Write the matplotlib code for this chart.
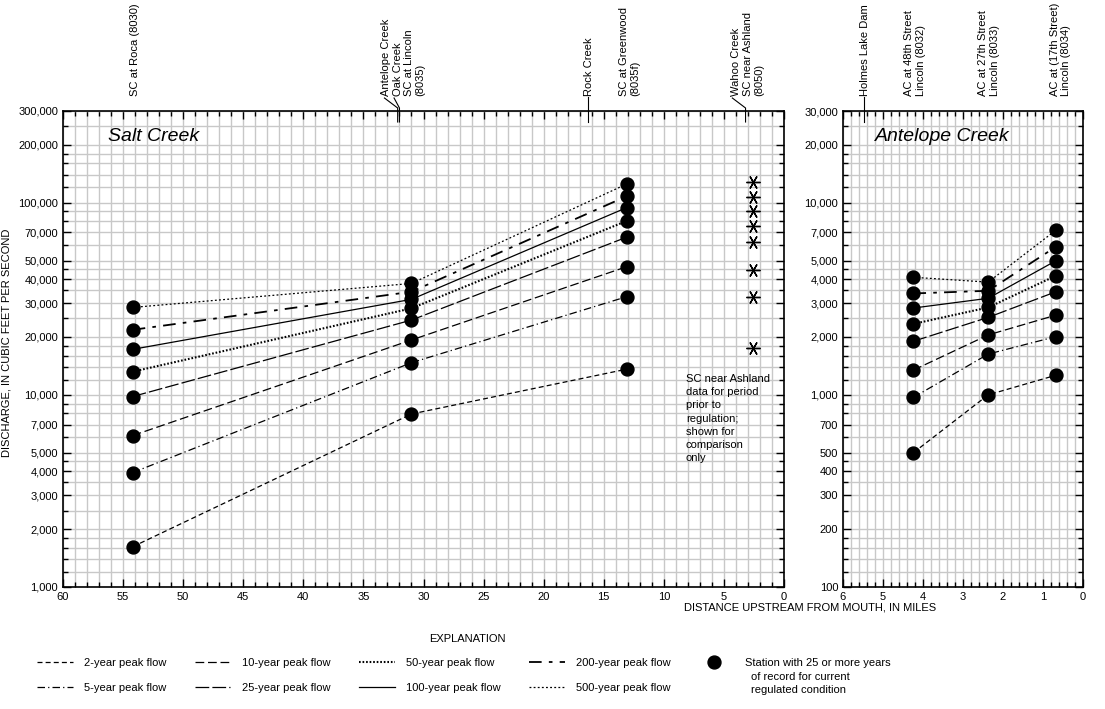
import matplotlib.pyplot as plt
import matplotlib.transforms as mtransforms
from matplotlib.lines import Line2D
from matplotlib.ticker import FixedLocator, FuncFormatter, NullFormatter

plt.rcParams['font.family'] = ['Liberation Sans', 'DejaVu Sans']
plt.rcParams['font.size'] = 8

# recurrence intervals, bottom line to top line
periods = ['2-year', '5-year', '10-year', '25-year', '50-year', '100-year',
           '200-year', '500-year']

# Salt Creek stations, miles upstream from mouth
sc_miles = [54.2, 31.0, 13.1]
sc_roca = [1620, 3940, 6140, 9800, 13200, 17250, 21800, 28500]
sc_lincoln = [7950, 14700, 19300, 24500, 28200, 31400, 34400, 38000]
sc_greenwood = [13600, 32400, 46400, 66100, 80300, 94200, 108000, 125000]
# SC near Ashland, pre-regulation (asterisks)
ashland_mile = 2.6
sc_ashland = [17600, 32400, 44600, 62200, 75900, 90500, 107400, 128500]

# Antelope Creek stations
ac_miles = [4.24, 2.37, 0.675]
ac_48th = [500, 970, 1345, 1900, 2340, 2830, 3370, 4090]
ac_27th = [1000, 1630, 2050, 2530, 2850, 3180, 3480, 3860]
ac_17th = [1265, 2010, 2600, 3440, 4170, 4990, 5900, 7200]

# station / tributary labels along the top
sc_label_miles = [54.0, 31.68, 16.25, 12.83, 3.0]
sc_labels = ['SC at Roca (8030)',
             'Antelope Creek\nOak Creek\nSC at Lincoln\n(8035)',
             'Rock Creek', 'SC at Greenwood\n(8035f)',
             'Wahoo Creek\nSC near Ashland\n(8050)']
ac_label_miles = [5.45, 4.2, 2.345, 0.5625]
ac_labels = ['Holmes Lake Dam', 'AC at 48th Street\nLincoln (8032)',
             'AC at 27th Street\nLincoln (8033)',
             'AC at (17th Street)\nLincoln (8034)']
# confluences with leader lines
antelope_mile, oak_mile, rock_mile, wahoo_mile, holmes_mile = 32.15, 32.0, 16.3, 3.2, 5.47

styles = {'2-year': (0, (4, 2.5)),
          '5-year': (0, (6, 2.5, 1, 2.5)),
          '10-year': (0, (7, 3)),
          '25-year': (0, (11, 2.5)),
          '50-year': (0, (0.8, 0.9)),
          '100-year': '-',
          '200-year': (0, (7, 4, 2, 4)),
          '500-year': (0, (1.5, 1.8))}
widths = {'50-year': 1.5, '200-year': 1.3}

sc_major = [1000, 2000, 3000, 4000, 5000, 7000, 10000, 20000, 30000, 40000,
            50000, 70000, 100000, 200000, 300000]
ac_major = [100, 200, 300, 400, 500, 700, 1000, 2000, 3000, 4000, 5000, 7000,
            10000, 20000, 30000]
mults = [1.2, 1.4, 1.6, 1.8, 2.5, 3.5, 4.5, 6, 8, 9]

fig = plt.figure(figsize=(11.05, 7.09), dpi=100)
ax = fig.add_axes([63 / 1105, 1 - 587 / 709, 721 / 1105, 476 / 709])
ax2 = fig.add_axes([843 / 1105, 1 - 587 / 709, 240 / 1105, 476 / 709])

comma = FuncFormatter(lambda v, p: '{:,.0f}'.format(v))


def style_axes(a, xmax, xmajor, xminor, ymin, ymax, ymajor):
    a.set_yscale('log')
    a.set_xlim(xmax, 0)
    a.set_ylim(ymin, ymax)
    a.xaxis.set_major_locator(FixedLocator(xmajor))
    a.xaxis.set_minor_locator(FixedLocator(xminor))
    a.yaxis.set_major_locator(FixedLocator(ymajor))
    minors = []
    d = ymin
    while d < ymax:
        minors += [d * m for m in mults if d * m < ymax]
        d *= 10
    a.yaxis.set_minor_locator(FixedLocator(minors))
    a.yaxis.set_major_formatter(comma)
    a.yaxis.set_minor_formatter(NullFormatter())
    a.xaxis.set_major_formatter(FuncFormatter(lambda v, p: '%d' % v))
    a.grid(which='both', color='#c8c8c8', lw=1.0)
    a.set_axisbelow(True)
    a.tick_params(which='both', direction='in', top=True, right=True,
                  width=1.0, labelsize=8)
    a.tick_params(which='major', length=6, pad=3.5)
    a.tick_params(which='minor', length=3.5)
    for s in a.spines.values():
        s.set_linewidth(1.2)


style_axes(ax, 60, range(0, 61, 5), range(0, 61), 1000, 300000, sc_major)
style_axes(ax2, 6, range(0, 7), [i * 0.2 for i in range(31)], 100, 30000, ac_major)

for i, p in enumerate(periods):
    lw = widths.get(p, 0.9)
    ax.plot(sc_miles, [sc_roca[i], sc_lincoln[i], sc_greenwood[i]], color='k',
            ls=styles[p], lw=lw, marker='o', ms=9.3, mec='k', mfc='k')
    ax2.plot(ac_miles, [ac_48th[i], ac_27th[i], ac_17th[i]], color='k',
             ls=styles[p], lw=lw, marker='o', ms=9.3, mec='k', mfc='k')
ax.plot([ashland_mile] * len(sc_ashland), sc_ashland, ls='none', color='k',
        marker=(6, 2, 90), ms=10, mew=1.0)

ax.text(0.0624, 0.947, 'Salt Creek', transform=ax.transAxes, fontsize=14,
        style='italic', va='center', ha='left')
ax2.text(0.133, 0.947, 'Antelope Creek', transform=ax2.transAxes, fontsize=14,
         style='italic', va='center', ha='left')
ax.text(0.864, 0.4475, 'SC near Ashland\ndata for period\nprior to\nregulation;\n'
        'shown for\ncomparison\nonly', transform=ax.transAxes, va='top',
        ha='left', linespacing=1.4)

# labels and leader lines above the plots
ytxt, ytop, ybot = 1.0305, 1.0063, 0.9769
for a, xs, labs in [(ax, sc_label_miles, sc_labels), (ax2, ac_label_miles, ac_labels)]:
    tr = mtransforms.blended_transform_factory(a.transData, a.transAxes)
    for x, lab in zip(xs, labs):
        a.text(x, ytxt, lab, transform=tr, rotation=90, ha='center',
               va='bottom', multialignment='left', linespacing=1.2)

tr = mtransforms.blended_transform_factory(ax.transData, ax.transAxes)
lk = dict(color='k', lw=0.8, clip_on=False, transform=tr)
ax.plot([33.25, antelope_mile, antelope_mile], [1.0273, ytop, ybot], **lk)
ax.plot([32.45, oak_mile, oak_mile], [1.0273, ytop, ybot], **lk)
ax.plot([rock_mile, rock_mile], [1.0294, ybot], **lk)
ax.plot([4.3, wahoo_mile, wahoo_mile], [1.0273, ytop, ybot], **lk)
tr2 = mtransforms.blended_transform_factory(ax2.transData, ax2.transAxes)
ax2.plot([holmes_mile, holmes_mile], [1.0294, ybot], color='k', lw=0.8,
         clip_on=False, transform=tr2)

fig.text(7 / 1105, 1 - 343 / 709, 'DISCHARGE, IN CUBIC FEET PER SECOND',
         rotation=90, ha='center', va='center')
fig.text(810 / 1105, 1 - 608 / 709, 'DISTANCE UPSTREAM FROM MOUTH, IN MILES',
         ha='center', va='center')

# explanation
fig.text(467 / 1105, 1 - 639 / 709, 'EXPLANATION', ha='center', va='center')
handles = [Line2D([], [], color='k', ls=styles[p], lw=widths.get(p, 0.9))
           for p in periods]
labels = [p + ' peak flow' for p in periods]
fig.legend(handles, labels, ncol=4, loc='upper left',
           bbox_to_anchor=(37 / 1105, 1 - 658 / 709), frameon=False,
           handlelength=3.2, handletextpad=1.0, columnspacing=2.6,
           labelspacing=1.35, borderaxespad=0, borderpad=0, fontsize=8)
dot = Line2D([], [], color='k', marker='o', ls='none', ms=9.3)
fig.legend([dot], ['Station with 25 or more years'], loc='upper left',
           bbox_to_anchor=(703 / 1105, 1 - 658 / 709), frameon=False,
           handlelength=2.0, handletextpad=1.8, borderaxespad=0, borderpad=0,
           fontsize=8)
fig.text(751 / 1105, 1 - 677 / 709, 'of record for current', va='center')
fig.text(751 / 1105, 1 - 690 / 709, 'regulated condition', va='center')

fig.savefig('out.png', dpi=100)
